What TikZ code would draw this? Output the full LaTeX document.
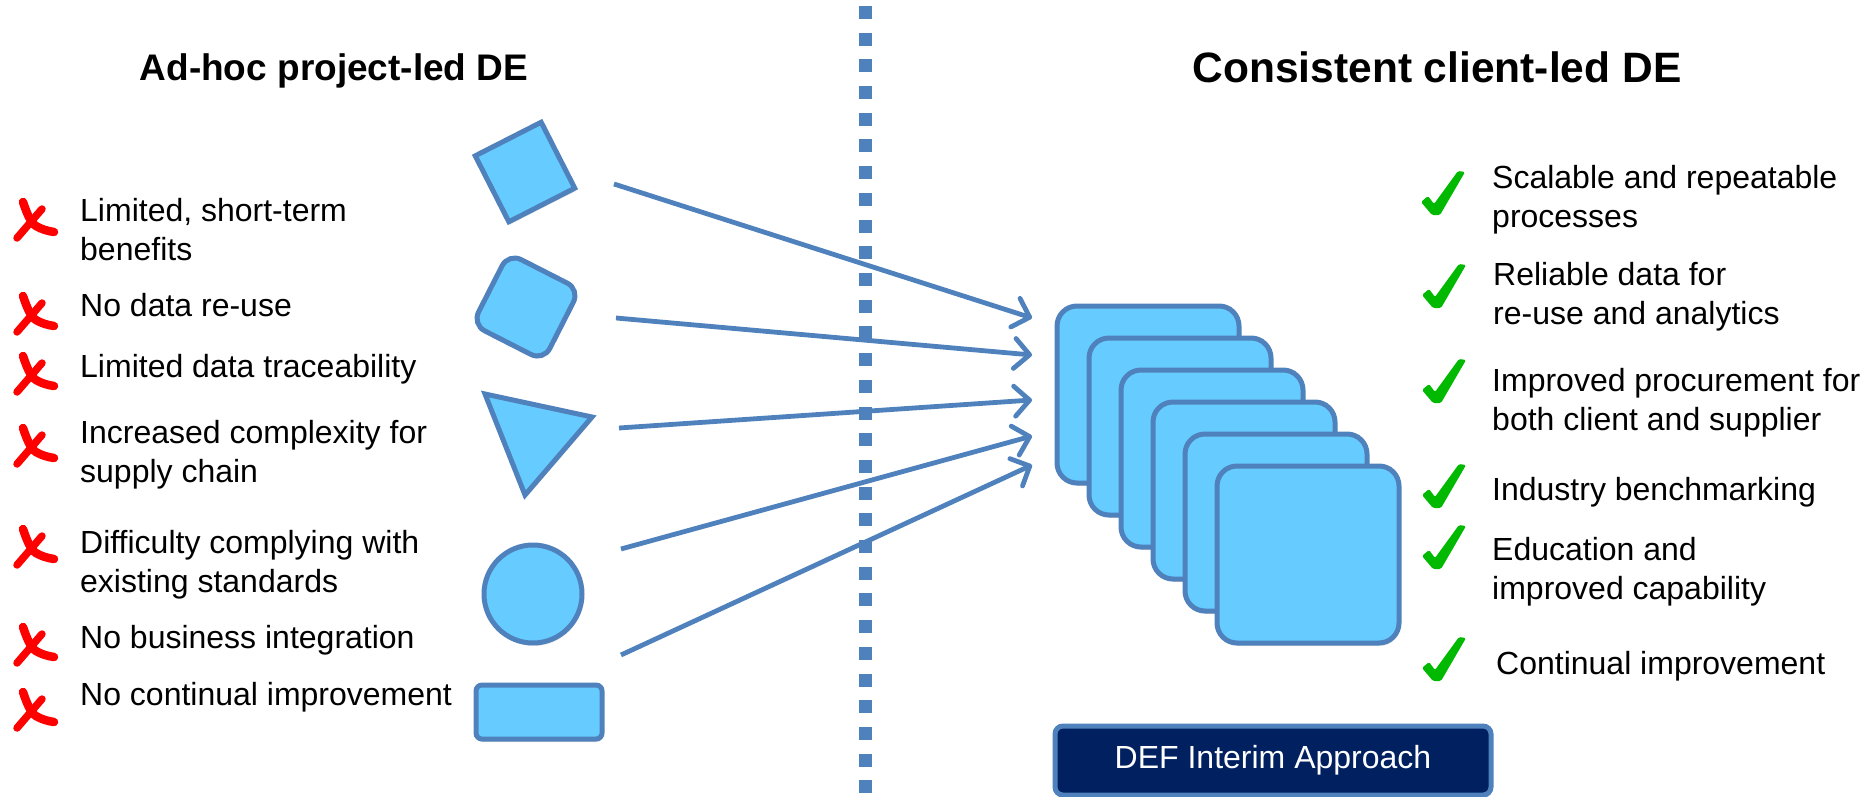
\documentclass[tikz,border=0pt]{standalone}
\usepackage{fontspec}
\setmainfont{Liberation Sans}
\usetikzlibrary{arrows.meta,shadows}
\definecolor{shapefill}{RGB}{102,204,255}
\definecolor{shapeline}{RGB}{79,129,189}
\definecolor{navy}{RGB}{0,32,96}
\definecolor{xred}{RGB}{255,0,0}
\definecolor{okgreen}{RGB}{0,185,0}
\tikzset{
  shp/.style={draw=shapeline, fill=shapefill, line width=5pt,
    drop shadow={opacity=0.18, shadow xshift=1pt, shadow yshift=-3pt}},
  flow/.style={draw=shapeline, line width=4.8pt,
    -{Straight Barb[length=15pt,width=30pt,line join=round,line cap=round]}},
  item/.style={anchor=base west, align=left, inner sep=0pt,
    font=\fontsize{32}{38.5}\selectfont},
  ttl/.style={anchor=base, inner sep=0pt, font=\bfseries},
  xmark/.pic={
    \draw[xred, line width=8.5pt, line cap=round]
      (-12,-18) .. controls (-8,-6) and (-4,3) .. (1,6) .. controls (6,9) and (12,11) .. (19,12);
    \draw[xred, line width=7.5pt, line cap=round] (7,-11) -- (-18,18);
  },
  ckmark/.pic={
    \fill[okgreen, rounded corners=1.5pt] (-22,9) -- (-15,3) -- (-9,11) -- (15,-22)
      -- (22,-21) -- (-3,22) -- (-11,22) -- cycle;
  }
}
\begin{document}
\begin{tikzpicture}[x=1pt,y=-1pt]
\useasboundingbox (0,0) rectangle (1866,797);

% titles
\node[ttl, font=\fontsize{37}{44}\bfseries] (tl) at (334,81) {Ad-hoc project-led DE};
\node[ttl, font=\fontsize{42.5}{50}\bfseries] (tr) at (1437,83) {Consistent client-led DE};

% divider
\coordinate (dtop) at (865,6);
\coordinate (dbot) at (865,797);
\draw[shapeline, line width=13pt, dash pattern=on 13pt off 13.7pt] (dtop) -- (dbot);

% left list
\pic at (35,220) {xmark};
\pic at (35,314) {xmark};
\pic at (35,374) {xmark};
\pic at (35,446) {xmark};
\pic at (35,547) {xmark};
\pic at (35,645) {xmark};
\pic at (35,710) {xmark};
\node[item] (l1) at (80,260) {Limited, short-term\\benefits};
\node[item] (l2) at (80,316) {No data re-use};
\node[item] (l3) at (80,377) {Limited data traceability};
\node[item] (l4) at (80,482) {Increased complexity for\\supply chain};
\node[item] (l5) at (80,592) {Difficulty complying with\\existing standards};
\node[item] (l6) at (80,648) {No business integration};
\node[item] (l7) at (80,705) {No continual improvement};

% left shapes
\node[shp, rectangle, minimum size=74pt, rotate=27] (s1) at (525,172) {};
\node[shp, rectangle, rounded corners=14pt, minimum size=80pt, rotate=-27] (s2) at (526,307) {};
\draw[shp] (485,394) coordinate (s3a) -- (592,417) coordinate (s3b) -- (525,495) coordinate (s3c) -- cycle;
\node[shp, circle, minimum size=98pt] (s4) at (533,594) {};
\node[shp, rectangle, rounded corners=6pt, minimum width=126pt, minimum height=54pt] (s5) at (539,712) {};

% stack
\foreach \k in {0,...,5}{
  \node[shp, rectangle, rounded corners=20pt, minimum width=182pt, minimum height=177pt]
    (st\k) at ({1148+32*\k},{394.5+32*\k}) {};
}

% arrows
\coordinate (a1) at (614,184); \coordinate (b1) at (1032,318);
\coordinate (a2) at (616,318); \coordinate (b2) at (1032,355);
\coordinate (a3) at (619,428); \coordinate (b3) at (1032,400);
\coordinate (a4) at (621,549); \coordinate (b4) at (1032,436);
\coordinate (a5) at (621,655); \coordinate (b5) at (1032,465);
\foreach \i in {1,...,5}{ \draw[flow] (a\i) -- (b\i); }

% right list
\pic at (1443,193) {ckmark};
\pic at (1444,286) {ckmark};
\pic at (1444,381) {ckmark};
\pic at (1444,486) {ckmark};
\pic at (1444,547) {ckmark};
\pic at (1444,659) {ckmark};
\node[item] (r1) at (1492,227) {Scalable and repeatable\\processes};
\node[item] (r2) at (1493,324) {Reliable data for\\re-use and analytics};
\node[item] (r3) at (1492,430) {Improved procurement for\\both client and supplier};
\node[item] (r4) at (1492,500) {Industry benchmarking};
\node[item] (r5) at (1492,599) {Education and\\improved capability};
\node[item] (r6) at (1496,674) {Continual improvement};

% bottom box
\node[draw=shapeline, fill=navy, line width=5pt, rounded corners=8pt,
  minimum width=436pt, minimum height=69pt, text=white,
  font=\fontsize{32}{38}\selectfont,
  drop shadow={opacity=0.2, shadow xshift=1pt, shadow yshift=-3pt}]
  (def) at (1273,760.5) {DEF Interim Approach};
\end{tikzpicture}
\end{document}
